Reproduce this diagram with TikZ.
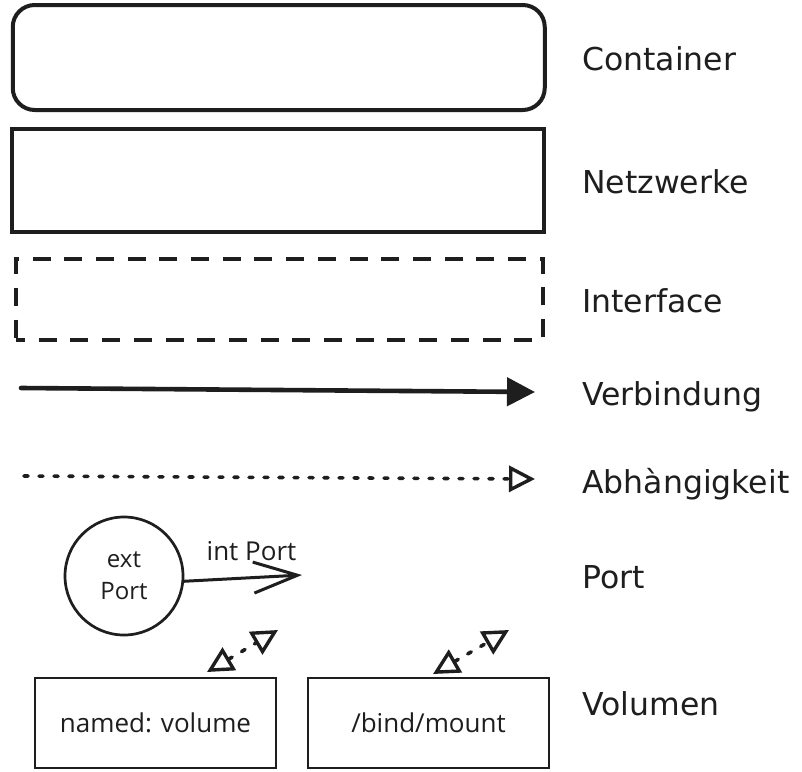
\documentclass[tikz,border=0pt]{standalone}
\usepackage{fontspec}
\setmainfont{Open Sans}
\newfontfamily\handfont{DejaVu Sans}
\usetikzlibrary{arrows.meta}
\definecolor{ink}{HTML}{1E1E1E}
\tikzset{
  legend/.style={font=\handfont\fontsize{31.5}{38}\selectfont, anchor=base west, inner sep=0pt, text=ink},
  innertext/.style={font=\fontsize{26}{32}\selectfont, text=ink},
  bigbox/.style={draw=ink, line width=4pt, inner sep=0pt},
  volbox/.style={draw=ink, line width=2.7pt, inner sep=0pt, minimum width=241pt, minimum height=90pt, innertext},
  flowline/.style={draw=ink, line width=4.6pt, line cap=round, -{Triangle[length=28pt,width=28pt]}},
  depline/.style={draw=ink, line width=3.6pt, line cap=round, dash pattern=on 4pt off 11pt, -{Triangle[open,length=26pt,width=26pt,line width=3.4pt]}},
  voldep/.style={draw=ink, line width=3.6pt, line cap=round, dash pattern=on 4pt off 11pt, {Triangle[open,length=26pt,width=26pt,line width=3.4pt]}-{Triangle[open,length=26pt,width=26pt,line width=3.4pt]}},
  portline/.style={draw=ink, line width=3pt, line cap=round, -{Straight Barb[length=44pt,width=31pt,line width=3pt]}}
}
\begin{document}
\begin{tikzpicture}[x=1pt,y=-1pt]
\useasboundingbox (0,0) rectangle (802,771);
\fill[white] (0,0) rectangle (802,771);

% legend shapes
\node[bigbox, rounded corners=22pt, minimum width=532pt, minimum height=105pt] (container) at (278.75,57.5) {};
\node[bigbox, line width=3.7pt, minimum width=532pt, minimum height=103pt] (netz) at (277.75,180.5) {};
\node[bigbox, line width=4pt, dash pattern=on 18pt off 13.7pt, dash phase=9pt, minimum width=527pt, minimum height=81pt] (iface) at (279.5,299.5) {};

\coordinate (vb1) at (21,388);
\coordinate (vb2) at (535,392);
\draw[flowline] (vb1) -- (vb2);

\coordinate (ab1) at (24,476);
\coordinate (ab2) at (535,479);
\draw[depline] (ab1) -- (ab2);

% port
\node[draw=ink, line width=2.7pt, circle, minimum size=118pt, inner sep=0pt, align=center,
      font=\fontsize{24}{32}\selectfont, text=ink] (extport) at (124,576) {ext\\Port};
\coordinate (porttip) at (302,575);
\draw[portline] (extport.-5) -- (porttip);
\node[innertext, anchor=base, inner sep=0pt] (intport) at (251.5,560) {int Port};

% volumes
\node[volbox] (named) at (155.5,723) {named: volume};
\node[volbox] (bind) at (428.5,723) {/bind/mount};
\coordinate (v1a) at (207,672);
\coordinate (v1b) at (278,630);
\draw[voldep] (v1a) -- (v1b);
\coordinate (v2a) at (433,674);
\coordinate (v2b) at (509,630);
\draw[voldep] (v2a) -- (v2b);

% labels
\node[legend] (lcontainer) at (582,70) {Container};
\node[legend] (lnetz) at (582,193) {Netzwerke};
\node[legend] (liface) at (582,312) {Interface};
\node[legend] (lverb) at (582,405) {Verbindung};
\node[legend] (labh) at (582,493) {Abhàngigkeit};
\node[legend] (lport) at (582,588) {Port};
\node[legend] (lvol) at (582,715) {Volumen};
\end{tikzpicture}
\end{document}
